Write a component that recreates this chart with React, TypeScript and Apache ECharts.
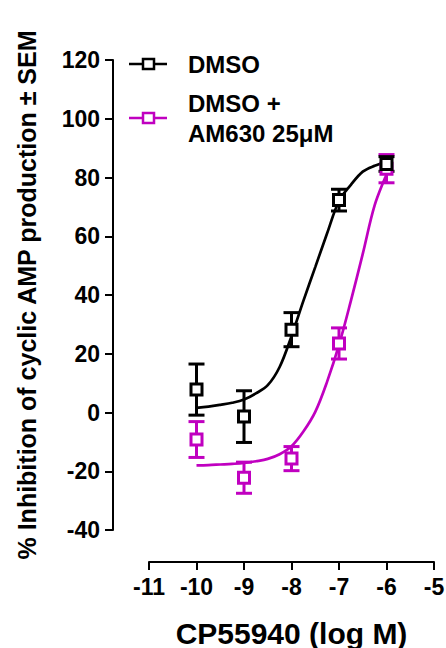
import React, { useEffect, useRef } from "react";
import * as echarts from "echarts";

// Measured points (log M) with mean ± SEM
const doses = [-10, -9, -8, -7, -6];
const dmsoMean = [7.8, -1.4, 28.2, 72.3, 84.6];
const dmsoSem = [8.7, 8.8, 5.8, 3.7, 2.5];
const am630Mean = [-9.2, -22.2, -15.7, 23.5, 83.0];
const am630Sem = [6.1, 5.3, 4.1, 5.3, 4.8];

// Fitted curves
const curveX = [-10, -9.75, -9.5, -9.25, -9, -8.75, -8.5, -8.25, -8, -7.75, -7.5, -7.25, -7, -6.75, -6.5, -6.25, -6];
const dmsoFit = [1.6, 2.0, 2.6, 3.3, 4.4, 6.5, 9.3, 15.5, 26, 38, 49.5, 61, 72, 77.5, 82, 84, 85.3];
const am630Fit = [-18, -17.9, -17.7, -17.5, -17.2, -16.6, -15.8, -14.2, -11.5, -6.5, 0.2, 10.5, 23, 38, 54, 70.5, 81];

// Axis ticks
const xMin = -11, xMax = -5, xStep = 1;
const yMin = -40, yMax = 120, yStep = 20;

const seriesNames = ["DMSO", "DMSO +\nAM630 25\u03bcM"];
const BLACK = "#000000";
const MAGENTA = "#c000c0";
const FONT = "'Liberation Sans', Arial, Helvetica, sans-serif";

function errorSeries(name: string, mean: number[], sem: number[], color: string) {
  return {
    type: "custom",
    name,
    z: 3,
    data: doses.map((d, i) => [d, mean[i] - sem[i], mean[i] + sem[i]]),
    renderItem: (_params: any, api: any) => {
      const x = api.value(0);
      const top = api.coord([x, api.value(2)]);
      const bot = api.coord([x, api.value(1)]);
      const hw = 8;
      const style = { stroke: color, lineWidth: 3 };
      return {
        type: "group",
        children: [
          { type: "line", shape: { x1: top[0], y1: top[1], x2: bot[0], y2: bot[1] }, style },
          { type: "line", shape: { x1: top[0] - hw, y1: top[1], x2: top[0] + hw, y2: top[1] }, style },
          { type: "line", shape: { x1: bot[0] - hw, y1: bot[1], x2: bot[0] + hw, y2: bot[1] }, style },
        ],
      };
    },
  };
}

function lineSeries(name: string, fit: number[], color: string) {
  return {
    type: "line",
    name,
    z: 2,
    data: curveX.map((x, i) => [x, fit[i]]),
    smooth: 0.35,
    showSymbol: false,
    lineStyle: { color, width: 2.7 },
  };
}

function pointSeries(name: string, mean: number[], color: string) {
  return {
    type: "scatter",
    name,
    z: 4,
    data: doses.map((d, i) => [d, mean[i]]),
    symbol: "rect",
    symbolSize: 11,
    itemStyle: { color: "#ffffff", borderColor: color, borderWidth: 3, opacity: 1 },
  };
}

function legendGraphic() {
  const rows = [
    { y: 64, color: BLACK, name: seriesNames[0] },
    { y: 118, color: MAGENTA, name: seriesNames[1] },
  ];
  const items: any[] = [];
  rows.forEach((r) => {
    items.push({
      type: "line",
      shape: { x1: 129, y1: r.y, x2: 167, y2: r.y },
      style: { stroke: r.color, lineWidth: 2.5 },
    });
    items.push({
      type: "rect",
      shape: { x: 143, y: r.y - 5, width: 11, height: 10 },
      style: { fill: "#ffffff", stroke: r.color, lineWidth: 2.5 },
    });
    items.push({
      type: "text",
      x: 188,
      y: r.y,
      style: {
        text: r.name,
        font: `bold 24px ${FONT}`,
        fill: "#000000",
        verticalAlign: "middle",
        align: "left",
        lineHeight: 30,
      },
    });
  });
  return items;
}

export default function App() {
  const ref = useRef<HTMLDivElement>(null);
  useEffect(() => {
    document.body.style.margin = "0";
    const chart = echarts.init(ref.current!, null, { renderer: "svg" });
    const axisLabel = {
      color: "#000",
      fontFamily: FONT,
      fontWeight: "bold",
      fontSize: 23,
    };
    chart.setOption({
      animation: false,
      backgroundColor: "#ffffff",
      grid: { left: 149, right: 12, top: 60, bottom: 118, outerBoundsMode: "none", containLabel: false },
      xAxis: {
        type: "value",
        min: xMin,
        max: xMax,
        interval: xStep,
        offset: 32,
        name: "CP55940 (log M)",
        nameLocation: "middle",
        nameGap: 56,
        nameTextStyle: { color: "#000", fontFamily: FONT, fontWeight: "bold", fontSize: 30 },
        axisLine: { show: true, onZero: false, lineStyle: { color: "#000", width: 2 } },
        axisTick: { show: true, length: 8, lineStyle: { color: "#000", width: 2 } },
        axisLabel: { ...axisLabel, margin: 13 },
        splitLine: { show: false },
      },
      yAxis: {
        type: "value",
        min: yMin,
        max: yMax,
        interval: yStep,
        offset: 36,
        name: "% Inhibition of cyclic AMP production \u00b1 SEM",
        nameLocation: "middle",
        nameGap: 74,
        nameTextStyle: { color: "#000", fontFamily: FONT, fontWeight: "bold", fontSize: 25 },
        axisLine: { show: true, onZero: false, lineStyle: { color: "#000", width: 2 } },
        axisTick: { show: true, length: 8, lineStyle: { color: "#000", width: 2 } },
        axisLabel: { ...axisLabel, margin: 13 },
        splitLine: { show: false },
      },
      series: [
        lineSeries(seriesNames[1], am630Fit, MAGENTA),
        errorSeries(seriesNames[1], am630Mean, am630Sem, MAGENTA),
        pointSeries(seriesNames[1], am630Mean, MAGENTA),
        lineSeries(seriesNames[0], dmsoFit, BLACK),
        errorSeries(seriesNames[0], dmsoMean, dmsoSem, BLACK),
        pointSeries(seriesNames[0], dmsoMean, BLACK),
      ],
      graphic: legendGraphic(),
    });
    return () => chart.dispose();
  }, []);
  return <div ref={ref} style={{ width: 446, height: 648 }} />;
}
